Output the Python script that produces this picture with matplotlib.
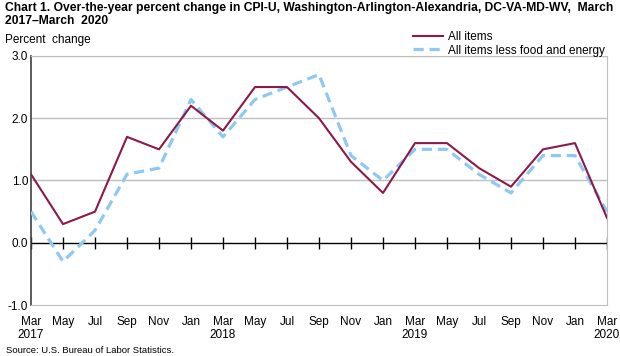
import matplotlib.pyplot as plt
import numpy as np

plt.rcParams['font.family'] = ['Liberation Sans', 'DejaVu Sans']

months = ['Mar\n2017', 'May', 'Jul', 'Sep', 'Nov', 'Jan', 'Mar\n2018', 'May', 'Jul', 'Sep',
          'Nov', 'Jan', 'Mar\n2019', 'May', 'Jul', 'Sep', 'Nov', 'Jan', 'Mar\n2020']
all_items = [1.1, 0.3, 0.5, 1.7, 1.5, 2.2, 1.8, 2.5, 2.5, 2.0,
             1.3, 0.8, 1.6, 1.6, 1.2, 0.9, 1.5, 1.6, 0.4]
core = [0.5, -0.3, 0.2, 1.1, 1.2, 2.3, 1.7, 2.3, 2.5, 2.7,
        1.4, 1.0, 1.5, 1.5, 1.1, 0.8, 1.4, 1.4, 0.5]

x = np.arange(len(months))

fig = plt.figure(figsize=(6.2, 3.56), dpi=100)
ax = fig.add_axes([0.05, 0.143, 0.929, 0.70])

for y in [1, 2, 3]:
    ax.axhline(y, color='#bfbfbf', lw=1, zorder=1)
ax.axhline(0, color='black', lw=1, zorder=2)
ax.plot(x, np.zeros(len(x)), ls='none', marker='|', ms=8, mew=1, color='black', zorder=2)

l1, = ax.plot(x, all_items, color='#8b1a4b', lw=1.5, zorder=4, label='All items')
l2, = ax.plot(x, core, color='#8ec8f5', lw=2.3, ls=(0, (3.2, 1.8)), zorder=3,
              label='All items less food and energy')

ax.set_xlim(0, len(x) - 1)
ax.set_ylim(-1, 3)
ax.set_yticks([-1, 0, 1, 2, 3])
ax.set_yticklabels(['-1.0', '0.0', '1.0', '2.0', '3.0'])
ax.set_xticks(x)
ax.set_xticklabels(months, linespacing=1.1)
ax.tick_params(axis='both', length=0, labelsize=8.5, pad=2)
ax.tick_params(axis='x', pad=8)

for s in ['top', 'right', 'bottom']:
    ax.spines[s].set_color('#bfbfbf')
ax.spines['left'].set_color('#404040')
ax.spines['left'].set_linewidth(1.2)

fig.text(0.008, 0.995, 'Chart 1. Over-the-year percent change in CPI-U, Washington-Arlington-Alexandria, DC-VA-MD-WV,  March\n2017\u2013March  2020',
         fontsize=8.7, fontweight='bold', va='top', ha='left', linespacing=1.15)
fig.text(0.008, 0.87, 'Percent  change', fontsize=8.5, va='bottom', ha='left')
fig.text(0.01, 0.003, 'Source: U.S. Bureau of Labor Statistics.', fontsize=6.8, va='bottom', ha='left')

fig.legend(handles=[l1, l2], loc='upper right', bbox_to_anchor=(0.985, 0.93), frameon=False,
           fontsize=8.5, handlelength=2.6, handletextpad=0.4, labelspacing=0.15, borderpad=0)

fig.savefig('out.png', dpi=100)
